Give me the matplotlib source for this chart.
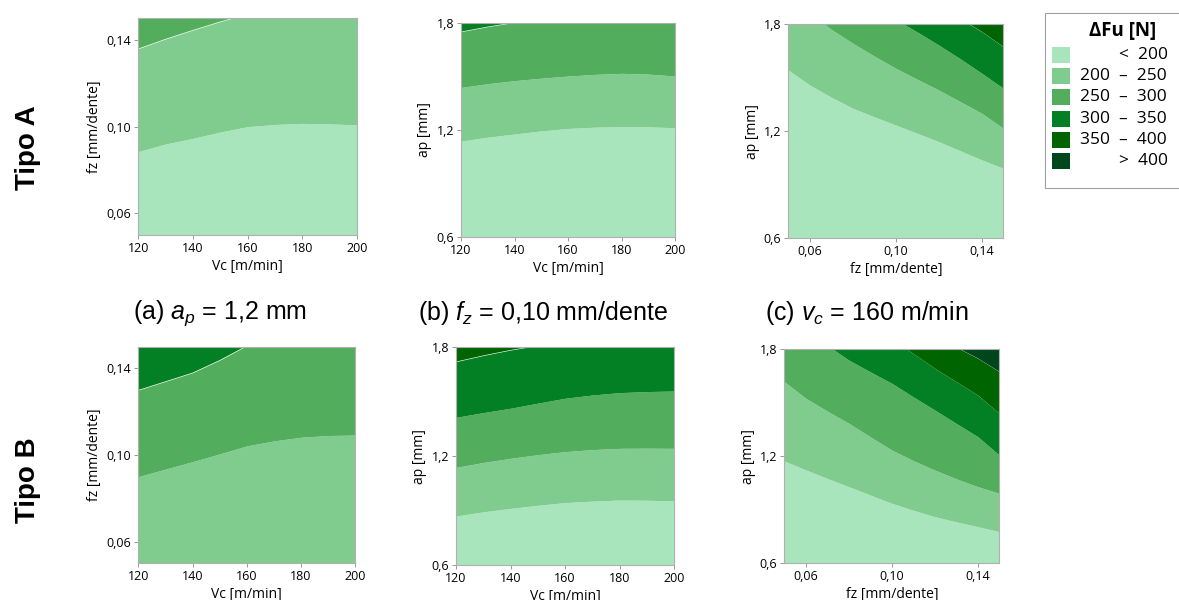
import matplotlib
matplotlib.use('Agg')
import matplotlib.pyplot as plt
from matplotlib.patches import Rectangle
import numpy as np

W, H = 1179, 600

# legend classes and colours
level_labels = ['< 200', '200  \u2013  250', '250  \u2013  300', '300  \u2013  350', '350  \u2013  400', '> 400']
colors = ['#a8e5bd', '#80cc8f', '#52ad5c', '#038024', '#006400', '#00461c']

# axes values
vc = [120, 130, 140, 150, 160, 170, 180, 190, 200]
fz = [0.05, 0.06, 0.07, 0.08, 0.09, 0.10, 0.11, 0.12, 0.13, 0.14, 0.15]

# Tipo A, (a) ap = 1,2 mm : fz boundaries over vc
a1_b200 = [0.0885, 0.092, 0.0946, 0.0975, 0.1000, 0.1010, 0.1015, 0.1013, 0.1008]
a1_b250 = [0.136, 0.1405, 0.1446, 0.1485, 0.152, 0.155, 0.157, 0.158, 0.158]
# Tipo A, (b) fz = 0,10 : ap boundaries over vc
a2_b200 = [1.136, 1.158, 1.176, 1.193, 1.207, 1.214, 1.217, 1.216, 1.211]
a2_b250 = [1.437, 1.458, 1.475, 1.489, 1.501, 1.510, 1.516, 1.512, 1.501]
a2_b300 = [1.750, 1.778, 1.802, 1.822, 1.838, 1.85, 1.856, 1.855, 1.85]
# Tipo A, (c) vc = 160 : ap boundaries over fz
a3_b200 = [1.542, 1.458, 1.39, 1.328, 1.28, 1.234, 1.188, 1.141, 1.09, 1.039, 0.992]
a3_b250 = [1.92, 1.86, 1.77, 1.692, 1.62, 1.552, 1.49, 1.430, 1.365, 1.300, 1.216]
a3_b300 = [2.2, 2.1, 2.0, 1.95, 1.9, 1.825, 1.755, 1.682, 1.605, 1.524, 1.440]
a3_b350 = [2.5, 2.4, 2.3, 2.2, 2.1, 2.0, 1.95, 1.9, 1.83, 1.757, 1.673]
# Tipo B
b1_b250 = [0.090, 0.0935, 0.0969, 0.1005, 0.1042, 0.1065, 0.1082, 0.109, 0.1092]
b1_b300 = [0.130, 0.134, 0.138, 0.1438, 0.1505, 0.156, 0.16, 0.163, 0.165]
b2_b200 = [0.870, 0.893, 0.912, 0.929, 0.944, 0.952, 0.958, 0.957, 0.953]
b2_b250 = [1.138, 1.165, 1.188, 1.208, 1.225, 1.236, 1.243, 1.244, 1.243]
b2_b300 = [1.414, 1.440, 1.464, 1.492, 1.519, 1.537, 1.550, 1.556, 1.559]
b2_b350 = [1.721, 1.755, 1.785, 1.81, 1.83, 1.85, 1.86, 1.87, 1.87]
b3_b200 = [1.173, 1.123, 1.075, 1.029, 0.982, 0.936, 0.897, 0.861, 0.832, 0.805, 0.777]
b3_b250 = [1.617, 1.524, 1.452, 1.384, 1.308, 1.234, 1.175, 1.122, 1.073, 1.029, 0.992]
b3_b300 = [1.95, 1.87, 1.82, 1.738, 1.672, 1.608, 1.532, 1.458, 1.383, 1.309, 1.206]
b3_b350 = [2.2, 2.1, 2.0, 1.95, 1.9, 1.856, 1.775, 1.692, 1.617, 1.542, 1.440]
b3_b400 = [2.5, 2.4, 2.3, 2.2, 2.1, 2.0, 1.93, 1.866, 1.81, 1.748, 1.673]

vc_ticks = [120, 140, 160, 180, 200]
vc_ticklabels = ['120', '140', '160', '180', '200']
fz_ticks = [0.06, 0.10, 0.14]
fz_ticklabels = ['0,06', '0,10', '0,14']
ap_ticks = [0.6, 1.2, 1.8]
ap_ticklabels = ['0,6', '1,2', '1,8']

captions = ['(a) $a_p$ = 1,2 mm', '(b) $f_z$ = 0,10 mm/dente', '(c) $v_c$ = 160 m/min']

tickfont = 'Open Sans'

plt.rcParams['mathtext.fontset'] = 'custom'
plt.rcParams['mathtext.it'] = 'Liberation Sans:italic'
plt.rcParams['mathtext.rm'] = 'Liberation Sans'

fig = plt.figure(figsize=(W / 100, H / 100), dpi=100)


def px_axes(l, r, t, b):
    return fig.add_axes([l / W, 1 - b / H, (r - l) / W, (b - t) / H])


def panel(box, x, bounds, start, xlim, ylim, xt, xtl, yt, ytl, xlabel, ylabel):
    ax = px_axes(*box)
    x = np.array(x)
    lower = np.full(len(x), ylim[0])
    k = start
    for b in bounds:
        ax.fill_between(x, lower, np.array(b), color=colors[k], lw=0)
        lower = np.array(b)
        k += 1
    ax.fill_between(x, lower, np.full(len(x), ylim[1] + 5), color=colors[k], lw=0)
    ax.set_xlim(*xlim)
    ax.set_ylim(*ylim)
    ax.set_xticks(xt)
    ax.set_xticklabels(xtl, fontsize=9, family=tickfont)
    ax.set_yticks(yt)
    ax.set_yticklabels(ytl, fontsize=9, family=tickfont)
    ax.tick_params(length=3, width=0.6, color='#888888', pad=2)
    for s in ax.spines.values():
        s.set_color('#b0b0b0')
        s.set_linewidth(0.8)
    ax.set_xlabel(xlabel, fontsize=10, family=tickfont, labelpad=3)
    ax.set_ylabel(ylabel, fontsize=10, family=tickfont, labelpad=3)
    return ax


panel((138.3, 356.7, 18.3, 235), vc, [a1_b200, a1_b250], 0, (120, 200), (0.05, 0.15),
      vc_ticks, vc_ticklabels, fz_ticks, fz_ticklabels, 'Vc [m/min]', 'fz [mm/dente]')
panel((461, 675, 22.7, 236.7), vc, [a2_b200, a2_b250, a2_b300], 0, (120, 200), (0.6, 1.8),
      vc_ticks, vc_ticklabels, ap_ticks, ap_ticklabels, 'Vc [m/min]', 'ap [mm]')
panel((788.3, 1003.3, 24, 238.3), fz, [a3_b200, a3_b250, a3_b300, a3_b350], 0, (0.05, 0.15), (0.6, 1.8),
      fz_ticks, fz_ticklabels, ap_ticks, ap_ticklabels, 'fz [mm/dente]', 'ap [mm]')
panel((138.3, 355.3, 346.7, 563.3), vc, [b1_b250, b1_b300], 1, (120, 200), (0.05, 0.15),
      vc_ticks, vc_ticklabels, fz_ticks, fz_ticklabels, 'Vc [m/min]', 'fz [mm/dente]')
panel((456, 674, 347.3, 565), vc, [b2_b200, b2_b250, b2_b300, b2_b350], 0, (120, 200), (0.6, 1.8),
      vc_ticks, vc_ticklabels, ap_ticks, ap_ticklabels, 'Vc [m/min]', 'ap [mm]')
panel((784.3, 999.3, 349, 563.3), fz, [b3_b200, b3_b250, b3_b300, b3_b350, b3_b400], 0, (0.05, 0.15), (0.6, 1.8),
      fz_ticks, fz_ticklabels, ap_ticks, ap_ticklabels, 'fz [mm/dente]', 'ap [mm]')

# row labels
fig.text(28 / W, 1 - 148 / H, 'Tipo A', rotation=90, ha='center', va='center',
         fontsize=20, fontweight='bold', family='Liberation Sans')
fig.text(28 / W, 1 - 480 / H, 'Tipo B', rotation=90, ha='center', va='center',
         fontsize=20, fontweight='bold', family='Liberation Sans')

# captions
for xc, c in zip([133, 418, 765], captions):
    fig.text(xc / W, 1 - 313 / H, c, ha='left', va='center', fontsize=18, family='Liberation Sans')

# legend box
fig.patches.append(Rectangle((1045 / W, 1 - 188 / H), 140 / W, 175 / H, transform=fig.transFigure,
                             fill=False, edgecolor='#a0a0a0', lw=0.8))
fig.text(1123 / W, 1 - 31 / H, '\u0394Fu [N]', ha='center', va='center', fontsize=13.5,
         fontweight='bold', family=tickfont)
for i, (lab, col) in enumerate(zip(level_labels, colors)):
    yc = 55 + i * 21.2
    fig.patches.append(Rectangle((1052 / W, 1 - (yc + 8) / H), 18 / W, 16 / H,
                                 transform=fig.transFigure, facecolor=col, edgecolor='none'))
    if lab.startswith('<') or lab.startswith('>'):
        fig.text(1168 / W, 1 - yc / H, lab.replace(' ', '  '), ha='right', va='center', fontsize=12.5, family=tickfont)
    else:
        fig.text(1080 / W, 1 - yc / H, lab, ha='left', va='center', fontsize=12.5, family=tickfont)

fig.savefig('out.png', dpi=100)
